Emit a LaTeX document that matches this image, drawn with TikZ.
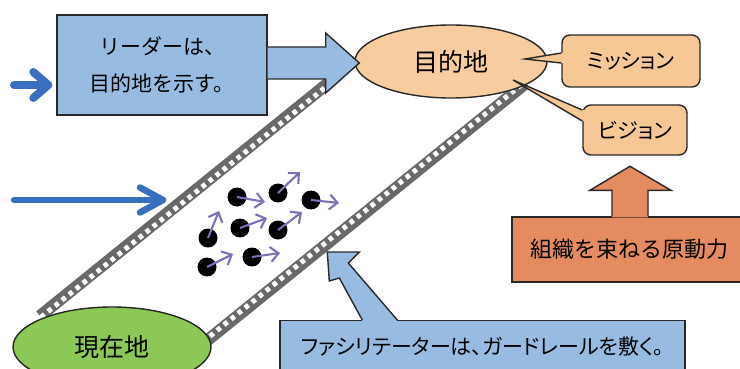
\documentclass[tikz,border=0pt]{standalone}
\usepackage{fontspec}
\setmainfont{Noto Sans CJK JP}
\usetikzlibrary{shapes.geometric,calc,arrows.meta}
\definecolor{outline}{RGB}{40,40,40}
\definecolor{boxblue}{RGB}{152,187,225}
\definecolor{arrowblue}{RGB}{58,110,190}
\definecolor{peach}{RGB}{247,205,160}
\definecolor{calloutfill}{RGB}{245,200,150}
\definecolor{orangefill}{RGB}{228,140,95}
\definecolor{greenfill}{RGB}{140,200,85}
\definecolor{purplearrow}{RGB}{125,110,185}
\definecolor{railgray}{RGB}{105,105,105}
\begin{document}
\begin{tikzpicture}[x=1pt,y=-1pt,
  outl/.style={draw=outline, line width=1.4pt},
  rail/.style={draw=railgray, line width=12pt},
  railholes/.style={draw=white, line width=5pt, dash pattern=on 4.5pt off 4.5pt},
  bluebox/.style={outl, fill=boxblue, inner sep=0pt},
  calloutbox/.style={outl, fill=calloutfill, rounded corners=8pt, inner sep=0pt,
     font=\fontsize{21}{24}\selectfont\addfontfeatures{RawFeature=+palt}},
  bluearrow/.style={draw=arrowblue, line cap=round, line join=round},
  dot/.style={circle, fill=black, inner sep=0pt, minimum size=19pt},
  parrow/.style={draw=purplearrow, line width=2.1pt, -{Straight Barb[length=8pt,width=15pt]}}]
\useasboundingbox (0,0) rectangle (740,369);

% guard rails
\coordinate (ls1) at (40,316); \coordinate (ls2) at (332,80);
\coordinate (rs1) at (204,343); \coordinate (rs2) at (526,83);
\draw[rail] (ls1) -- (ls2);
\draw[railholes] ($(ls1)+(1,1.2)$) -- ($(ls2)+(1,1.2)$);
\draw[rail] (rs1) -- (rs2);
\draw[railholes] ($(rs1)+(-1,-1.2)$) -- ($(rs2)+(-1,-1.2)$);

% ellipses
\node[ellipse, outl, fill=greenfill, minimum width=198pt, minimum height=80pt,
      font=\fontsize{25}{30}\selectfont] (cur) at (112,347) {現在地};
\node[ellipse, outl, fill=peach, minimum width=192pt, minimum height=73pt,
      font=\fontsize{25}{30}\selectfont] (dest) at (451,61.5) {目的地};

% leader box and block arrow
\node[bluebox, minimum width=210pt, minimum height=100pt, align=center,
      font=\fontsize{21}{37}\selectfont] (lead) at (162,65) {リーダーは、\\目的地を示す。};
\draw[outl, fill=boxblue] ($(lead.east)+(0,-18)$) -- ($(lead.east)+(58,-18)$)
  -- ($(lead.east)+(58,-32)$) -- ($(dest.west)+(5,1.5)$)
  -- ($(lead.east)+(58,28)$) -- ($(lead.east)+(58,14)$) -- ($(lead.east)+(0,14)$);

% callouts
\node[calloutbox, minimum width=138pt, minimum height=52pt] (mis) at (631,61) {ミッション};
\coordinate (mtip) at ($(dest.center)+(74,-2.5)$);
\fill[calloutfill] ($(mis.west)+(0,-8)$) -- (mtip) -- ($(mis.west)+(0,2)$)
  -- ($(mis.west)+(5,2)$) -- ($(mis.west)+(5,-8)$) -- cycle;
\draw[outl] ($(mis.west)+(0,-8)$) -- (mtip) -- ($(mis.west)+(0,2)$);

\node[calloutbox, minimum width=104pt, minimum height=50pt] (vis) at (635,130) {ビジョン};
\coordinate (vtip) at ($(dest.center)+(62,18.5)$);
\fill[calloutfill] ($(vis.west)+(0,-20)$) -- (vtip) -- ($(vis.west)+(0,-9)$)
  -- ($(vis.west)+(5,-9)$) -- ($(vis.west)+(5,-20)$) -- cycle;
\draw[outl] ($(vis.west)+(0,-20)$) -- (vtip) -- ($(vis.west)+(0,-9)$);

% driving force box with up arrow
\node[outl, fill=orangefill, minimum width=234pt, minimum height=65pt, inner sep=0pt,
      font=\fontsize{22}{26}\selectfont] (force) at (629,249.5) {組織を束ねる原動力};
\coordinate (ftip) at ($(force.north)+(1,-50)$);
\fill[orangefill] ($(force.north)+(-17,1)$) -- ($(force.north)+(-17,-26)$)
  -- ($(force.north)+(-39,-26)$) -- (ftip) -- ($(force.north)+(42,-26)$)
  -- ($(force.north)+(19,-26)$) -- ($(force.north)+(19,1)$) -- cycle;
\draw[outl] ($(force.north)+(-17,0)$) -- ($(force.north)+(-17,-26)$)
  -- ($(force.north)+(-39,-26)$) -- (ftip) -- ($(force.north)+(42,-26)$)
  -- ($(force.north)+(19,-26)$) -- ($(force.north)+(19,0)$);

% facilitator box with arrow
\node[bluebox, minimum width=405pt, minimum height=52pt, anchor=north,
      font=\fontsize{21}{24}\selectfont\addfontfeatures{RawFeature=+palt}] (facil) at (482.5,320) {ファシリテーターは、ガードレールを敷く。};
\coordinate (gtip) at ($(facil.north west)+(48,-68)$);
\fill[boxblue] ($(facil.north west)+(83,1)$) -- ($(facil.north west)+(60,-42)$)
  -- ($(facil.north west)+(50,-39)$) -- (gtip) -- ($(facil.north west)+(80,-68)$)
  -- ($(facil.north west)+(69,-57)$) -- ($(facil.north west)+(118,1)$) -- cycle;
\draw[outl] ($(facil.north west)+(83,0)$) -- ($(facil.north west)+(60,-42)$)
  -- ($(facil.north west)+(50,-39)$) -- (gtip) -- ($(facil.north west)+(80,-68)$)
  -- ($(facil.north west)+(69,-57)$) -- ($(facil.north west)+(118,0)$);

% blue arrows on the left
\coordinate (b1s) at (14,85);
\coordinate (b1e) at ($(lead.west |- b1s)+(-8,0)$);
\draw[bluearrow, line width=8pt] (b1s) -- (b1e);
\draw[bluearrow, line width=8pt] ($(b1e)+(-15,-13)$) -- (b1e) -- ($(b1e)+(-15,13)$);
\coordinate (b2s) at (14,200); \coordinate (b2e) at (163,200);
\draw[bluearrow, line width=6.5pt] (b2s) -- (b2e);
\draw[bluearrow, line width=6.5pt] ($(b2e)+(-23,-12.5)$) -- (b2e) -- ($(b2e)+(-23,12.5)$);

% people
\node[dot] (p1) at (237,197) {};
\node[dot] (p2) at (278,193) {};
\node[dot] (p3) at (311,200) {};
\node[dot] (p4) at (208,238) {};
\node[dot] (p5) at (240,228) {};
\node[dot] (p6) at (278,230) {};
\node[dot] (p7) at (207,267) {};
\node[dot] (p8) at (252,257) {};
\coordinate (q1) at (265,202);
\coordinate (q2) at (300,172);
\coordinate (q3) at (339,203);
\coordinate (q4) at (219,211);
\coordinate (q5) at (267,218);
\coordinate (q6) at (302,212);
\coordinate (q7) at (233,254);
\coordinate (q8) at (280,253);
\foreach \i in {1,...,8} { \draw[parrow] (p\i.center) -- (q\i); }
\end{tikzpicture}
\end{document}
